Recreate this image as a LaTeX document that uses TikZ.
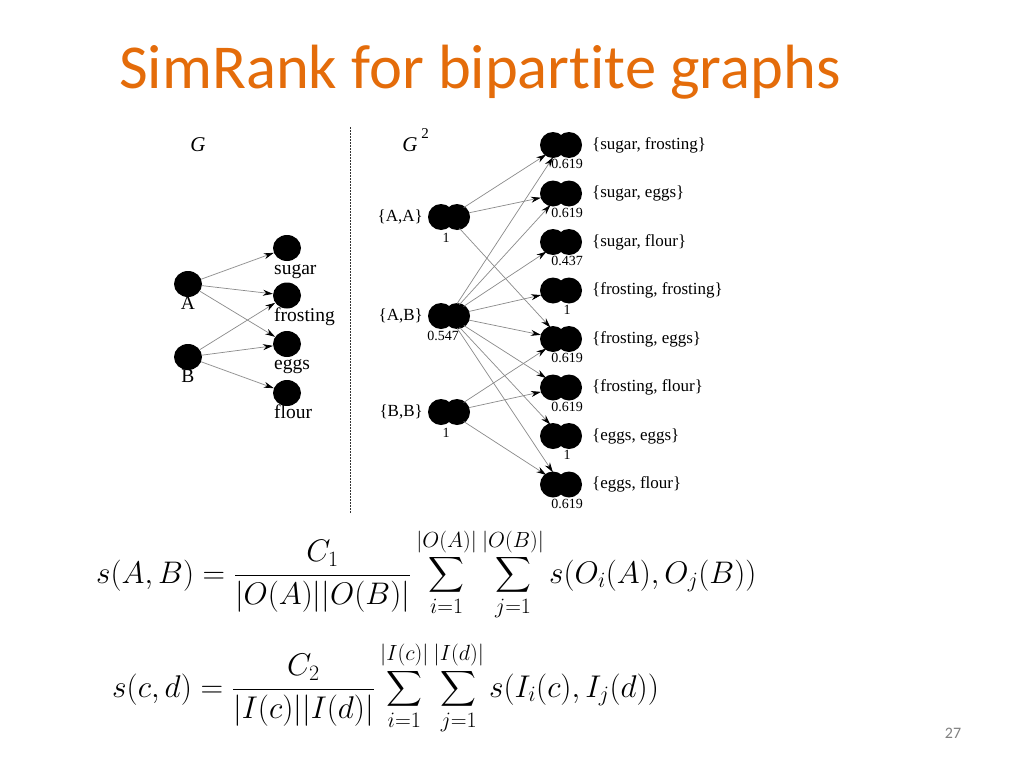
\documentclass[tikz,border=0pt]{standalone}
\usepackage{fix-cm}
\usepackage{amsmath}
\usepackage{fontspec}
\usetikzlibrary{arrows.meta,shapes.geometric}
\newfontfamily\carlito[Ligatures={NoCommon,NoRare}]{Carlito}
\newfontfamily\timesf{Liberation Serif}
\definecolor{titleorange}{HTML}{E46C0A}
\definecolor{edgegray}{HTML}{8A8A8A}
\tikzset{
  sdot/.style={ellipse, fill=black, minimum width=28pt, minimum height=26pt, inner sep=0pt},
  dnode/.style={ellipse, minimum width=42pt, minimum height=26pt, inner sep=0pt},
  lbl/.style={font=\timesf\fontsize{19.5}{22}\selectfont, inner sep=0pt},
  vlbl/.style={font=\timesf\fontsize{17}{19}\selectfont, inner sep=0pt},
  edge/.style={draw=edgegray, line width=0.7pt, -{Stealth[length=10pt,width=6pt,color=black]}},
}
\begin{document}
\begin{tikzpicture}[x=1pt,y=-1pt]
\useasboundingbox[fill=white] (0,0) rectangle (1024,768);
% title
\node[anchor=base west, inner sep=0pt, text=titleorange, font=\carlito\fontsize{62.5}{70}\selectfont] (title) at (119,88) {SimRank for bipartite graphs};
% page number
\node[inner sep=0pt, text=gray, font=\carlito\fontsize{16}{18}\selectfont] (pnum) at (953,733) {27};
% ---------- G ----------
\node[lbl, font=\timesf\itshape\fontsize{21}{22}\selectfont] (Glab) at (198,145) {G};
\node[sdot] (A) at (188,284) {};
\node[sdot] (B) at (188,357) {};
\node[sdot] (sugar) at (287,248) {};
\node[sdot] (frosting) at (287,295.5) {};
\node[sdot] (eggs) at (287,344) {};
\node[sdot] (flour) at (287,393) {};
\node[lbl, anchor=base] (Alab) at (188,309) {A};
\node[lbl, anchor=base] (Blab) at (188,382) {B};
\node[lbl, anchor=base west] (sugarlab) at (274,274) {sugar};
\node[lbl, anchor=base west] (frostlab) at (274,321.5) {frosting};
\node[lbl, anchor=base west] (eggslab) at (274,369.5) {eggs};
\node[lbl, anchor=base west] (flourlab) at (274,418) {flour};
\draw[edge] (A) -- (sugar);
\draw[edge] (A) -- (frosting);
\draw[edge] (A) -- (eggs);
\draw[edge] (B) -- (frosting);
\draw[edge] (B) -- (eggs);
\draw[edge] (B) -- (flour);
% separator
\coordinate (sepT) at (350,127);
\coordinate (sepB) at (350,513);
\draw[dash pattern=on 1.5pt off 1.5pt, line width=0.8pt, black!80] (sepT) -- (sepB);
% ---------- G^2 ----------
\node[lbl, font=\timesf\itshape\fontsize{21}{22}\selectfont] (G2lab) at (410,145) {G};
\node[lbl] (G2sup) at (425,134) {\fontsize{15}{16}\selectfont 2};
\node[dnode] (AA) at (449,217) {};
\node[dnode] (AB) at (449,316) {};
\node[dnode] (BB) at (449,412) {};
\node[dnode] (SF) at (561,145) {};
\node[dnode] (SE) at (561,193.5) {};
\node[dnode] (SL) at (561,242) {};
\node[dnode] (FF) at (561,290.5) {};
\node[dnode] (FE) at (561,339) {};
\node[dnode] (FL) at (561,387.5) {};
\node[dnode] (EE) at (561,436) {};
\node[dnode] (EL) at (561,484.5) {};
\foreach \n in {AA,AB,BB,SF,SE,SL,FF,FE,FL,EE,EL}{
  \fill ([xshift=-8pt]\n.center) circle[radius=13pt];
  \fill ([xshift=8pt]\n.center) circle[radius=13pt];
}
% left labels
\node[vlbl, anchor=east] (AAl) at (423,217) {\{A,A\}};
\node[vlbl, anchor=east] (ABl) at (423,316) {\{A,B\}};
\node[vlbl, anchor=east] (BBl) at (423,412) {\{B,B\}};
\node[vlbl, font=\timesf\fontsize{14}{16}\selectfont] (AAv) at (446,238) {1};
\node[vlbl, font=\timesf\fontsize{14}{16}\selectfont] (ABv) at (443,336) {0.547};
\node[vlbl, font=\timesf\fontsize{14}{16}\selectfont] (BBv) at (446,433) {1};
% right labels
\foreach \n/\t/\v in {SF/{sugar, frosting}/0.619, SE/{sugar, eggs}/0.619, SL/{sugar, flour}/0.437, FF/{frosting, frosting}/1, FE/{frosting, eggs}/0.619, FL/{frosting, flour}/0.619, EE/{eggs, eggs}/1, EL/{eggs, flour}/0.619}{
  \node[vlbl, anchor=west] (\n t) at ([xshift=31pt]\n.center) {\{\t\}};
  \node[vlbl, font=\timesf\fontsize{14}{16}\selectfont] (\n v) at ([xshift=6pt,yshift=-19pt]\n.center) {\v};
}
% edges G^2
\draw[edge] (AA) -- (SF);
\draw[edge] (AA) -- (SE);
\draw[edge] (AA) -- (FE);
\foreach \t in {SF,SE,SL,FF,FE,FL,EE,EL}{\draw[edge] (AB) -- (\t);}
\draw[edge] (BB) -- (FE);
\draw[edge] (BB) -- (FL);
\draw[edge] (BB) -- (EL);
% formulas
\node[anchor=base west, inner sep=0pt, font=\fontsize{31.2}{38}\selectfont] (f1) at (96,583)
 {$\displaystyle s(A,B)=\frac{C_1}{|O(A)||O(B)|}\sum_{i=1}^{|O(A)|}\sum_{j=1}^{|O(B)|} s(O_i(A),O_j(B))$};
\node[anchor=base west, inner sep=0pt, font=\fontsize{31.4}{38}\selectfont] (f2) at (112,697)
 {$\displaystyle s(c,d)=\frac{C_2}{|I(c)||I(d)|}\sum_{i=1}^{|I(c)|}\sum_{j=1}^{|I(d)|} s(I_i(c),I_j(d))$};
\end{tikzpicture}
\end{document}
